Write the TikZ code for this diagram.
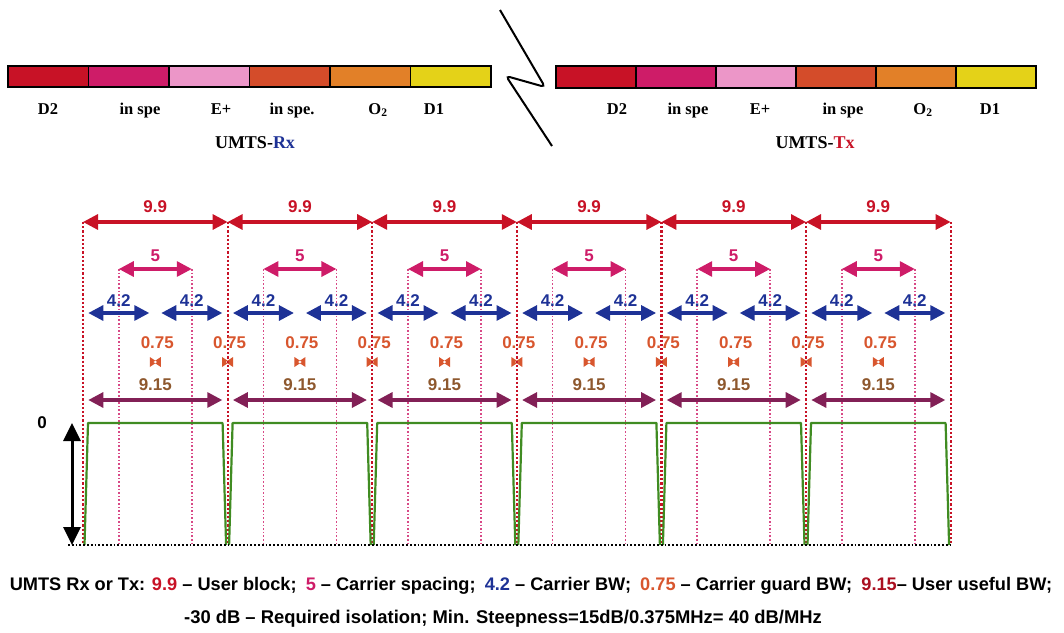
\documentclass[tikz,border=0pt]{standalone}
\usepackage{fontspec}
\setmainfont{Liberation Serif}
\setsansfont{Liberation Sans}
\usetikzlibrary{arrows.meta}
\definecolor{bred}{RGB}{200,18,38}
\definecolor{bmag}{RGB}{206,28,104}
\definecolor{bpink}{RGB}{236,150,200}
\definecolor{bored}{RGB}{212,76,42}
\definecolor{borange}{RGB}{226,128,40}
\definecolor{byell}{RGB}{228,210,24}
\definecolor{cblue}{RGB}{30,50,150}
\definecolor{cguard}{RGB}{216,86,46}
\definecolor{cuse}{RGB}{130,32,86}
\definecolor{cuset}{RGB}{142,88,46}
\definecolor{mgreen}{RGB}{64,140,34}
\tikzset{
  seg/.style={draw=black,line width=1.8pt},
  bl/.style={font=\fontsize{16.5}{18}\selectfont\bfseries,anchor=base},
  lb/.style={font=\sffamily\bfseries\fontsize{17}{19}\selectfont,inner sep=0pt},
  dim/.style={line width=3.2pt,{Triangle[length=15pt,width=15pt]}-{Triangle[length=15pt,width=15pt]}},
  vred/.style={draw=bred,line width=2.2pt,dotted},
  vmag/.style={draw=bmag!80,line width=1.6pt,dotted},
  msk/.style={draw=mgreen,line width=2.2pt,line join=round},
}

\begin{document}
\begin{tikzpicture}[x=1pt,y=-1pt]
\useasboundingbox (0,0) rectangle (1064,632);
\foreach \c [count=\i from 0] in {bred,bmag,bpink,bored,borange,byell}{
  \pgfmathsetmacro{\xl}{8+80.5*\i}
  \pgfmathsetmacro{\xr}{\xl+80.5}
  \filldraw[seg,fill=\c] (\xl,66) rectangle (\xr,87);
  \pgfmathsetmacro{\xl}{556+80*\i}
  \pgfmathsetmacro{\xr}{\xl+80}
  \filldraw[seg,fill=\c] (\xl,66) rectangle (\xr,88);
}
\node[bl] (rd2) at (48,114) {D2};
\node[bl] (rs1) at (140,114) {in spe};
\node[bl] (re) at (221,114) {E+};
\node[bl] (rs2) at (292,114) {in spe.};
\node[bl] (ro) at (378,114) {O\textsubscript{2}};
\node[bl] (rd1) at (434,114) {D1};
\node[bl,font=\fontsize{18}{20}\selectfont\bfseries] (rx) at (255,148) {UMTS-\textcolor{cblue}{Rx}};
\node[bl] (td2) at (617,114) {D2};
\node[bl] (ts1) at (688,114) {in spe};
\node[bl] (te) at (760,114) {E+};
\node[bl] (ts2) at (843,114) {in spe};
\node[bl] (to) at (923,114) {O\textsubscript{2}};
\node[bl] (td1) at (990,114) {D1};
\node[bl,font=\fontsize{18}{20}\selectfont\bfseries] (tx) at (815,148) {UMTS-\textcolor{bred}{Tx}};
\draw[line width=2pt,rounded corners=4pt] (500,10) -- (545,87) -- (506,76) -- (552,146);

\foreach \k in {0,...,6}{
  \pgfmathsetmacro{\xa}{83+144.6*\k}
  \coordinate (bt\k) at (\xa,222);
  \coordinate (bb\k) at (\xa,545);
  \draw[vred] (bt\k) -- (bb\k);
}
\foreach \k [evaluate=\k as \n using int(\k+1)] in {0,...,5}{
  \pgfmathsetmacro{\xa}{83+144.6*\k}
  \pgfmathsetmacro{\xm}{\xa+72.3}
  \pgfmathsetmacro{\xb}{\xa+144.6}
  \coordinate (ca\k) at (\xm-36.5,269);
  \coordinate (cb\k) at (\xm+36.5,269);
  \coordinate (da\k) at (\xm-36.5,545);
  \coordinate (db\k) at (\xm+36.5,545);
  \draw[vmag] (ca\k) -- (da\k);
  \draw[vmag] (cb\k) -- (db\k);
  \draw[dim,bred] (bt\k) -- node[lb,above=8pt,text=bred]{9.9} (bt\n);
  \draw[dim,bmag] (ca\k) -- node[lb,above=6pt,text=bmag]{5} (cb\k);
  \coordinate (ka\k) at (\xm-67,313);
  \coordinate (kb\k) at (\xm-6,313);
  \coordinate (kc\k) at (\xm+6,313);
  \coordinate (kd\k) at (\xm+67,313);
  \draw[dim,cblue] (ka\k) -- node[lb,above=5pt,text=cblue]{4.2} (kb\k);
  \draw[dim,cblue] (kc\k) -- node[lb,above=5pt,text=cblue]{4.2} (kd\k);
  \node[lb,text=cguard] (g\k) at (\xm+2,343) {0.75};
  \fill[cguard] (\xm-5.5,357) -- (\xm+2,362) -- (\xm-5.5,367) -- cycle
    (\xm+5.5,357) -- (\xm-2,362) -- (\xm+5.5,367) -- cycle;
  \node[lb,text=cuset] (w\k) at (\xm,385) {9.15};
  \coordinate (ua\k) at (\xm-67,400);
  \coordinate (ub\k) at (\xm+67,400);
  \draw[dim,cuse] (ua\k) -- (ub\k);
  \draw[msk] (\xa+1.5,545) -- (\xa+5,423) -- (\xb-5,423) -- (\xb-1.5,545);
}
\foreach \k in {1,...,5}{
  \pgfmathsetmacro{\xa}{83+144.6*\k}
  \node[lb,text=cguard] (h\k) at (\xa+2,343) {0.75};
  \fill[cguard] (\xa-5.5,357) -- (\xa+2,362) -- (\xa-5.5,367) -- cycle
    (\xa+5.5,357) -- (\xa-2,362) -- (\xa+5.5,367) -- cycle;
}
\draw[black,line width=1.8pt,dotted] (68,545) -- (bb6);
\coordinate (zt) at (72,423);
\coordinate (zb) at (72,545);
\draw[line width=3pt,{Triangle[length=18pt,width=17pt]}-{Triangle[length=18pt,width=17pt]}] (zt) -- (zb);
\node[lb] (zero) at (42,423) {0};

\node[lb,font=\sffamily\bfseries\fontsize{18.2}{20}\selectfont] (key1) at (531,586)
  {UMTS Rx or Tx: \textcolor{bred}{9.9} -- User block;\enspace \textcolor{bmag}{5} -- Carrier spacing;\enspace \textcolor{cblue}{4.2} -- Carrier BW;\enspace \textcolor{cguard}{0.75} -- Carrier guard BW;\enspace \textcolor{bred!85!black}{9.15}-- User useful BW;};
\node[lb,font=\sffamily\bfseries\fontsize{18.4}{20}\selectfont] (key2) at (503,619)
  {-30 dB -- Required isolation; Min. Steepness=15dB/0.375MHz= 40 dB/MHz};
\end{tikzpicture}
\end{document}
